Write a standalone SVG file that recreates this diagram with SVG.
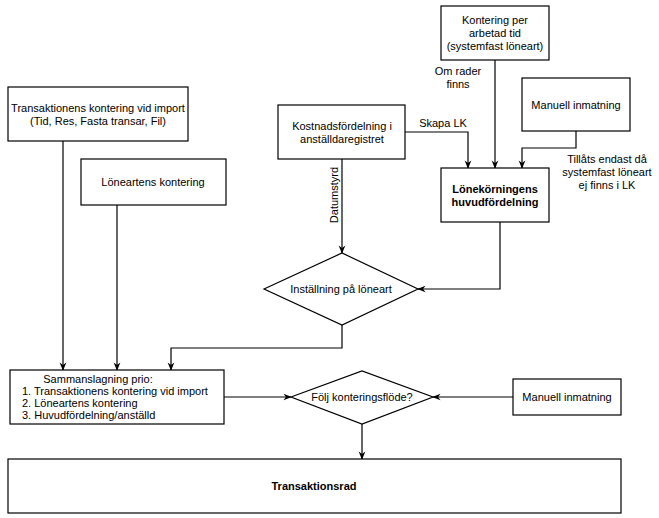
<svg xmlns="http://www.w3.org/2000/svg" width="659" height="518" viewBox="0 0 659 518">
<style>
rect,polygon{fill:#fff;stroke:#000;stroke-width:1.2}
text{font-family:"Liberation Sans",Arial,sans-serif;font-size:11px;fill:#000;text-anchor:middle}
.b{font-weight:bold}
.c path{fill:none;stroke:#000;stroke-width:1.2;marker-end:url(#a)}
</style>
<defs><marker id="a" viewBox="0 0 10 10" refX="9" refY="5" markerWidth="7" markerHeight="7" orient="auto"><path d="M0,1 L10,5 L0,9 L3,5z" fill="#000"/></marker></defs>
<rect width="659" height="518" style="fill:#fff;stroke:none"/>
<g class="c">
<path d="M405,132 H468 V168"/>
<path d="M495,60 V168"/>
<path d="M576,131 V148 H522 V168"/>
<path d="M500,222 V289 H418"/>
<path d="M342,159 V253"/>
<path d="M63,141 V370"/>
<path d="M117,205 V370"/>
<path d="M342,325 V348 H171 V370"/>
<path d="M224,397 H291"/>
<path d="M513,397 H433"/>
<path d="M362,424 V459"/>
</g>
<text x="443" y="127">Skapa LK</text>
<text x="458" y="75">Om rader</text>
<text x="458" y="88">finns</text>
<text x="607" y="163">Tillåts endast då</text>
<text x="607" y="176">systemfast  löneart</text>
<text x="607" y="189">ej finns i LK</text>
<text transform="translate(338,195) rotate(-90)">Datumstyrd</text>
<g id="n1"><rect x="441" y="6" width="108" height="54"/><text x="495" y="24">Kontering per</text><text x="495" y="37">arbetad tid</text><text x="495" y="50">(systemfast löneart)</text></g>
<g id="n2"><rect x="522" y="78" width="108" height="53"/><text x="576" y="109">Manuell inmatning</text></g>
<g id="n3"><rect x="278" y="105" width="127" height="54"/><text x="342" y="130">Kostnadsfördelning i</text><text x="342" y="143">anställdaregistret</text></g>
<g id="n4"><rect x="441" y="168" width="108" height="54"/><text class="b" x="495" y="193">Lönekörningens</text><text class="b" x="495" y="206">huvudfördelning</text></g>
<g id="n5"><polygon points="264,289 342,253 418,289 342,325"/><text x="341" y="293">Inställning på löneart</text></g>
<g id="n6"><rect x="8" y="87" width="180" height="54"/><text x="98" y="112">Transaktionens kontering vid import</text><text x="98" y="125">(Tid, Res, Fasta transar, Fil)</text></g>
<g id="n7"><rect x="81" y="159" width="145" height="46"/><text x="153" y="186">Löneartens kontering</text></g>
<g id="n8"><rect x="10" y="370" width="214" height="54"/><text x="98" y="383">Sammanslagning prio:</text><text x="22" y="395" style="text-anchor:start">1. Transaktionens kontering vid import</text><text x="22" y="407" style="text-anchor:start">2. Löneartens kontering</text><text x="22" y="419" style="text-anchor:start">3. Huvudfördelning/anställd</text></g>
<g id="n9"><polygon points="291,397 362,371 433,397 362,424"/><text x="362" y="401">Följ konteringsflöde?</text></g>
<g id="n10"><rect x="513" y="379" width="108" height="36"/><text x="567" y="401">Manuell inmatning</text></g>
<g id="n11"><rect x="8" y="459" width="613" height="54"/><text class="b" x="314" y="490">Transaktionsrad</text></g>
</svg>
